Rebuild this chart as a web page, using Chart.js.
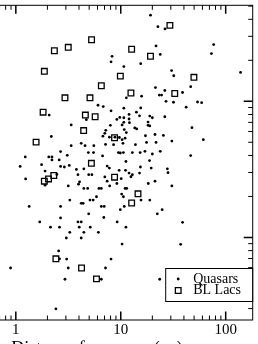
<!DOCTYPE html>
<html>
<head>
<meta charset="utf-8">
<script src="https://cdn.jsdelivr.net/npm/chart.js@4.4.1/dist/chart.umd.min.js"></script>
<style>
  html, body { margin: 0; padding: 0; background: #fff; overflow: hidden; width: 258px; height: 344px; }
  #wrap { position: absolute; left: -64px; top: 0; }
</style>
</head>
<body>
<div id="wrap"><canvas id="chart" width="322" height="380"></canvas></div>
<script>
// Quasars (dots)
const quasarX = [
  8.26, 8.08, 10.7, 19.2, 22.6, 26.4, 21.7, 23.8, 76.8, 73.1,
  15.5, 30.5, 32.0, 138.6, 2.08, 11.3, 6.07, 6.81, 8.08, 10.7,
  15.5, 14.1, 18.9, 20.0, 15.1, 9.79, 9.18, 10.7, 10.7, 10.3,
  12.0, 12.0, 12.1, 4.70, 3.37, 7.96, 18.2, 18.2, 18.9, 13.6,
  14.2, 7.20, 10.8, 11.3, 7.05, 6.76, 7.79, 9.70, 10.3, 11.0,
  10.5, 3.37, 4.20, 4.57, 5.54, 7.16, 8.54, 13.8, 17.2, 17.6,
  4.91, 5.50, 9.50, 9.91, 10.6, 12.9, 15.3, 17.0, 20.0, 3.09,
  11.2, 6.71, 18.8, 2.90, 3.23, 3.78, 4.45, 7.42, 7.79, 15.4,
  19.5, 9.65, 11.1, 15.8, 21.2, 21.7, 21.4, 26.3, 23.3, 24.5,
  38.8, 46.4, 27.0, 31.8, 42.0, 53.9, 59.0, 26.3, 47.7, 25.5,
  30.7, 61.2, 23.8, 46.4, 27.8, 28.2, 21.2, 30.7, 24.8, 22.3,
  38.8, 37.2, 3.91, 4.95, 5.31, 7.05, 10.1, 12.0, 12.9, 12.5,
  15.1, 7.42, 9.18, 4.05, 3.96, 3.16, 7.84, 4.45, 4.84, 6.20,
  6.53, 11.0, 11.4, 18.3, 10.2, 10.6, 5.87, 5.46, 5.09, 3.27,
  15.6, 18.9, 4.20, 4.38, 6.53, 6.96, 10.8, 9.91, 4.95, 6.90,
  3.91, 4.20, 9.24, 4.02, 5.12, 11.2, 3.27, 4.45, 6.12, 3.03,
  4.20, 10.3, 3.05, 8.08, 2.18, 2.67, 1.23, 2.06, 2.21, 2.21,
  2.59, 1.76, 1.10, 2.67, 1.90, 2.46, 1.24, 1.90, 1.34, 2.67,
  2.67, 1.69, 2.14, 2.61, 2.56, 2.61, 0.891, 3.16, 7.16, 2.94,
  6.53, 2.41, 23.5, 8.8
];
const quasarY = [
  21.4, 19.5, 18.0, 42.9, 35.3, 34.0, 25.5, 22.1, 26.1, 22.4,
  18.9, 16.8, 15.4, 16.3, 7.92, 10.6, 9.35, 9.14, 8.51, 8.90,
  8.94, 8.32, 7.79, 7.57, 7.82, 7.61, 7.36, 7.57, 7.00, 6.70,
  8.00, 7.41, 6.96, 7.32, 6.70, 6.66, 7.04, 6.66, 6.59, 6.37,
  6.27, 6.12, 6.20, 5.89, 5.82, 5.54, 5.45, 5.42, 5.22, 5.36,
  4.91, 4.72, 4.91, 4.72, 4.72, 4.82, 4.80, 4.80, 5.58, 4.99,
  4.20, 4.20, 4.20, 4.17, 4.20, 4.20, 4.20, 4.29, 4.10, 4.01,
  3.61, 3.97, 3.67, 3.29, 3.38, 3.16, 3.19, 3.34, 3.23, 3.29,
  3.23, 3.11, 3.11, 10.9, 5.70, 4.99, 12.6, 12.0, 11.1, 11.1,
  11.6, 12.8, 10.0, 9.84, 9.05, 9.88, 9.77, 7.70, 6.40, 5.61,
  5.10, 5.22, 4.29, 3.99, 3.19, 2.99, 2.59, 2.39, 1.60, 1.49,
  1.29, 0.890, 2.89, 2.89, 2.89, 2.78, 2.70, 2.97, 2.89, 2.79,
  2.97, 2.59, 2.49, 2.56, 2.46, 2.39, 2.39, 2.29, 2.29, 2.29,
  2.29, 2.29, 2.29, 2.49, 2.08, 1.99, 1.99, 1.88, 1.88, 1.88,
  1.88, 1.88, 1.78, 1.78, 1.69, 1.69, 1.69, 1.60, 1.49, 1.40,
  1.30, 1.30, 1.30, 1.19, 1.19, 1.19, 1.09, 1.09, 1.09, 0.99,
  0.99, 0.894, 0.693, 0.693, 5.51, 4.27, 3.90, 3.90, 3.90, 3.71,
  3.71, 3.42, 3.32, 3.32, 3.07, 2.90, 2.69, 2.42, 1.69, 1.69,
  1.39, 1.30, 1.19, 1.19, 0.796, 0.696, 0.596, 0.596, 0.596, 0.493,
  0.493, 0.299, 0.493, 5.45
];

// BL Lacs (open squares)
const blLacX = [
  5.27, 2.33, 3.16, 1.87, 9.91, 6.53, 12.5, 2.94, 5.09, 1.82,
  4.60, 5.70, 4.43, 1.56, 8.73, 5.25, 2.30, 2.05, 1.87, 8.73,
  14.6, 12.7, 2.41, 4.23, 5.87, 29.4, 12.7, 19.2, 49.8, 32.7
];
const blLacY = [
  28.3, 23.5, 24.9, 16.6, 15.3, 13.0, 11.5, 10.6, 10.6, 8.32,
  7.92, 7.70, 6.09, 5.01, 5.40, 3.50, 2.85, 2.69, 2.59, 2.77,
  2.09, 1.79, 0.696, 0.596, 0.496, 36.1, 24.1, 21.4, 15.0, 11.4
];

const seriesNames = ['Quasars', 'BL Lacs'];
const xTickLabels = [1, 10, 100];
const xMinorTicks = [0.2, 0.3, 0.4, 0.5, 0.6, 0.7, 0.8, 0.9, 2, 3, 4, 5, 6, 7, 8, 9, 20, 30, 40, 50, 60, 70, 80, 90];
const yMajorTicks = [1, 10];
const yMinorTicks = [0.3, 0.4, 0.5, 0.6, 0.7, 0.8, 0.9, 2, 3, 4, 5, 6, 7, 8, 9, 20, 30, 40, 50];

const serif = 'Liberation Serif';

// frame, inward ticks on every side, and the boxed legend
const frameAndLegend = {
  id: 'frameAndLegend',
  afterDraw(chart) {
    const { ctx, chartArea: a, scales: { x, y } } = chart;
    ctx.save();
    ctx.strokeStyle = '#000';
    ctx.lineWidth = 1;
    ctx.strokeRect(a.left, a.top, a.right - a.left, a.bottom - a.top);

    const xTicks = (vals, len, w) => {
      ctx.lineWidth = w;
      ctx.beginPath();
      vals.forEach(v => {
        const p = x.getPixelForValue(v);
        if (p <= a.left || p >= a.right) return;
        ctx.moveTo(p, a.bottom); ctx.lineTo(p, a.bottom - len);
        ctx.moveTo(p, a.top); ctx.lineTo(p, a.top + len);
      });
      ctx.stroke();
    };
    const yTicks = (vals, len, w) => {
      ctx.lineWidth = w;
      ctx.beginPath();
      vals.forEach(v => {
        const p = y.getPixelForValue(v);
        if (p <= a.top || p >= a.bottom) return;
        ctx.moveTo(a.right, p); ctx.lineTo(a.right - len, p);
        ctx.moveTo(a.left, p); ctx.lineTo(a.left + len, p);
      });
      ctx.stroke();
    };
    xTicks(xMinorTicks, 4.5, 1);
    xTicks(xTickLabels, 8.5, 1.5);
    yTicks(yMinorTicks, 4.5, 1);
    yTicks(yMajorTicks, 9, 1.5);

    // legend box
    const lw = 87, lh = 33;
    const lx = a.right - lw - 0.5, ly = a.bottom - 52;
    ctx.fillStyle = '#fff';
    ctx.fillRect(lx, ly, lw, lh);
    ctx.lineWidth = 1;
    ctx.strokeStyle = '#000';
    ctx.strokeRect(lx + 0.5, ly + 0.5, lw, lh);
    chart.data.datasets.forEach((ds, i) => {
      const cx = lx + 13, cy = ly + 11 + i * 11.5;
      ctx.fillStyle = ds.backgroundColor;
      ctx.strokeStyle = ds.borderColor;
      ctx.lineWidth = ds.borderWidth;
      Chart.helpers.drawPoint(ctx, { pointStyle: ds.pointStyle, radius: ds.pointRadius, borderWidth: ds.borderWidth, rotation: 0 }, cx, cy);
      ctx.fillStyle = '#000';
      ctx.font = '14px "' + serif + '"';
      ctx.textBaseline = 'middle';
      ctx.textAlign = 'left';
      ctx.fillText(ds.label, lx + 28, cy);
    });
    ctx.restore();
  }
};

new Chart(document.getElementById('chart'), {
  type: 'scatter',
  data: {
    datasets: [
      {
        label: seriesNames[0],
        data: quasarX.map((v, i) => ({ x: v, y: quasarY[i] })),
        pointStyle: 'circle',
        pointRadius: 1.4,
        backgroundColor: '#000',
        borderColor: '#000',
        borderWidth: 0
      },
      {
        label: seriesNames[1],
        data: blLacX.map((v, i) => ({ x: v, y: blLacY[i] })),
        pointStyle: 'rect',
        pointRadius: 4,
        backgroundColor: 'rgba(0,0,0,0)',
        borderColor: '#000',
        borderWidth: 1.3
      }
    ]
  },
  options: {
    responsive: false,
    animation: false,
    events: [],
    layout: { padding: { left: 0, right: 1.5, top: 1, bottom: 0 } },
    plugins: { legend: { display: false }, tooltip: { enabled: false } },
    scales: {
      x: {
        type: 'logarithmic',
        min: 0.1949,
        max: 180.9,
        grid: { display: false, drawTicks: false },
        border: { display: false },
        afterBuildTicks: axis => { axis.ticks = xTickLabels.map(v => ({ value: v, major: true })); },
        afterFit: axis => { axis.height = 60; },
        ticks: {
          autoSkip: false,
          maxRotation: 0,
          padding: 1,
          color: '#000',
          font: { family: serif, size: 15 },
          callback: v => String(v)
        },
        title: {
          display: true,
          text: 'Distance from core (pc)',
          color: '#000',
          font: { family: serif, size: 18 },
          padding: { top: 0, bottom: 20 }
        }
      },
      y: {
        type: 'logarithmic',
        display: false,
        min: 0.2474,
        max: 50.7
      }
    }
  },
  plugins: [frameAndLegend]
});
</script>
</body>
</html>
